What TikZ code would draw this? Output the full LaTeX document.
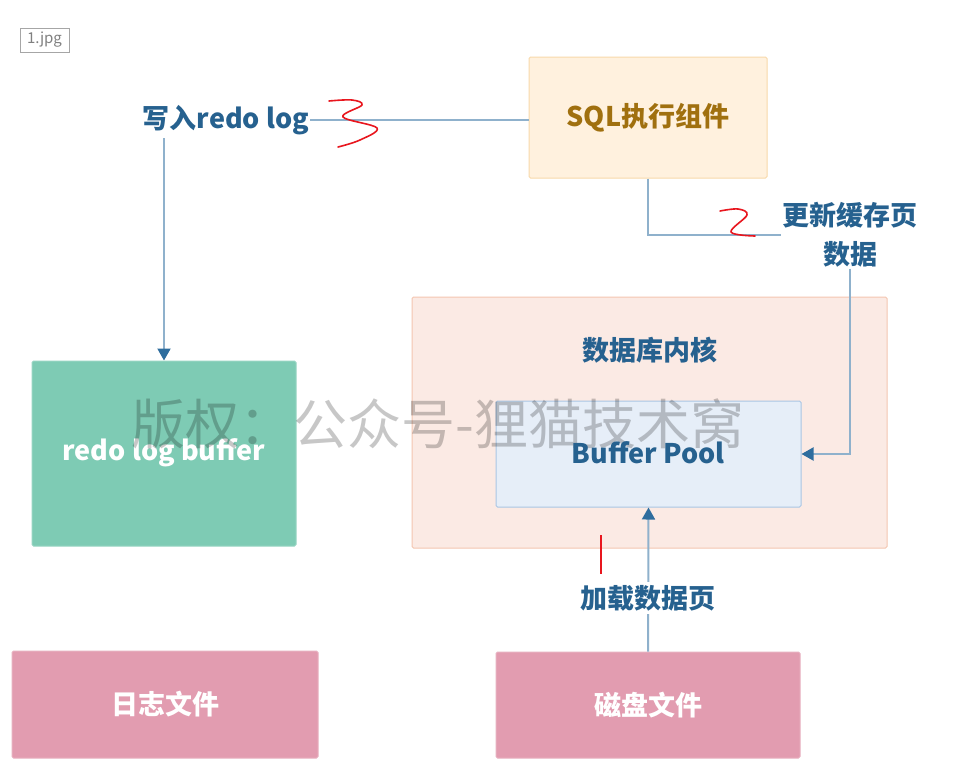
\documentclass[tikz,border=0pt]{standalone}
\usepackage{fontspec}
\setmainfont{Noto Sans CJK SC}
\usetikzlibrary{arrows.meta}
\definecolor{lbl}{HTML}{26618F}
\definecolor{conn}{HTML}{8FB1CC}
\definecolor{tipc}{HTML}{2E6D9E}
\definecolor{sqlfill}{HTML}{FFF1DE}
\definecolor{sqldraw}{HTML}{F8D9AA}
\definecolor{sqltext}{HTML}{A0700F}
\definecolor{greenfill}{HTML}{7ECBB4}
\definecolor{kernfill}{HTML}{FBEAE4}
\definecolor{kerndraw}{HTML}{F4C6B0}
\definecolor{bpfill}{HTML}{E6EEF8}
\definecolor{bpdraw}{HTML}{A9C6E4}
\definecolor{pinkfill}{HTML}{E29CB0}
\definecolor{redmark}{HTML}{E8161E}
\tikzset{
  box/.style={draw, rectangle, rounded corners=1.5pt, line width=1pt, inner sep=0pt},
  lab/.style={font=\fontsize{27}{31}\selectfont\bfseries, text=lbl},
  conline/.style={draw=conn, line width=2pt},
  arr/.style={conline, -{Triangle[length=12pt,width=13pt,color=tipc]}},
  scrib/.style={draw=redmark, line width=1.6pt, line cap=round, line join=round}
}
\begin{document}
\begin{tikzpicture}[x=1pt,y=-1pt]
\useasboundingbox (0,0) rectangle (965,779);
\fill[white] (0,0) rectangle (965,779);
% file tag
\node[draw=gray!70, line width=0.8pt, minimum width=49pt, minimum height=24pt, inner sep=0pt,
      font=\fontsize{15}{17}\selectfont, text=gray] (tag) at (44.5,40) {1.jpg};
% boxes
\node[box, fill=sqlfill, draw=sqldraw, minimum width=238pt, minimum height=121pt,
      font=\fontsize{27}{31}\selectfont\bfseries, text=sqltext] (sql) at (648,117.5) {SQL执行组件};
\node[box, fill=greenfill, draw=greenfill!80!white, minimum width=264pt, minimum height=185pt] (rlb) at (164,453.5) {};
\node[font=\fontsize{27}{31}\selectfont\bfseries, text=white] (rlbt) at (164,453) {redo log buffer};
\node[box, fill=kernfill, draw=kerndraw, minimum width=475pt, minimum height=251pt] (kern) at (649.5,422.5) {};
\node[lab] (kernt) at (650,350) {数据库内核};
\node[box, fill=bpfill, draw=bpdraw, minimum width=305pt, minimum height=106pt] (bp) at (648.5,454) {};
\node[box, fill=pinkfill, draw=pinkfill!80!white, minimum width=306pt, minimum height=107pt,
      font=\fontsize{27}{31}\selectfont\bfseries, text=white] (logf) at (165,704.5) {日志文件};
\node[box, fill=pinkfill, draw=pinkfill!80!white, minimum width=304pt, minimum height=106pt,
      font=\fontsize{27}{31}\selectfont\bfseries, text=white] (disk) at (648,705) {磁盘文件};
% watermark
\node[font=\fontsize{54}{60}\selectfont, text=black, text opacity=0.22] (wm) at (438,424) {版权：公众号-狸猫技术窝};
\node[lab] (bpt) at (648,453) {Buffer Pool};
% labels
\node[lab, inner sep=1pt] (wr) at (226,120) {写入redo log};
\node[lab, align=center, inner sep=1pt] (upd) at (850,235) {更新缓存页\\[8pt]数据};
% connectors
\draw[conline] (wr.east) -- (sql.west |- wr.east);
\draw[arr] (rlb.north |- wr.south) ++(0,2) -- (rlb.north);
\draw[conline] (sql.south) |- (upd.west);
\draw[arr] (upd.south) |- (bp.east);
\draw[arr] (disk.north) -- (bp.south)
  node[pos=0.37, fill=white, lab, inner sep=3pt] (load) {加载数据页};
% red marks
\draw[scrib] plot[smooth, tension=0.6] coordinates {(329,101) (352,100) (362,105) (343,117) (377,128) (360,140) (338,147)};
\draw[scrib] plot[smooth, tension=0.6] coordinates {(720,211) (738,209) (747,215) (731,232) (755,236)};
\draw[draw=redmark, line width=1.5pt] (601,535) -- (601,574);
\end{tikzpicture}
\end{document}
